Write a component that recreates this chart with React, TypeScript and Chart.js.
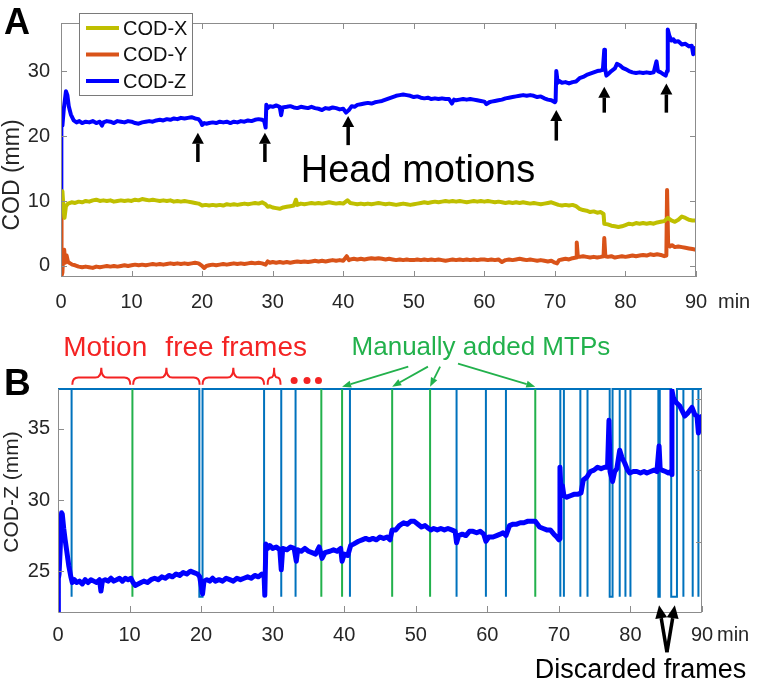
import React, { useEffect, useRef } from 'react';
import { Chart, registerables } from 'chart.js';

Chart.register(...registerables);

const FONT = '"Liberation Sans", Arial, Helvetica, sans-serif';
const AXIS_GRAY = '#8c8c8c';
const TEXT_DARK = '#262626';

// ---------------- ticks ----------------
const minuteTicks = [0, 10, 20, 30, 40, 50, 60, 70, 80, 90];
const codTicksA = [0, 10, 20, 30];
const codZTicksB = [25, 30, 35];
const codZRightTicksB = [27.05, 32.1, 37.1];

// ---------------- panel A series: [minute, mm] ----------------
const codX: [number, number][] = [
  [0.1, 10.0], [0.2, 11.5], [0.35, 9.0], [0.5, 7.4], [0.7, 9.2], [1, 9.6], [1.5, 9.8], [2, 9.7], [2.5, 9.9], [3, 9.8],
  [3.5, 10.0], [4, 9.9], [4.5, 10.1], [5, 10.2], [5.5, 10.0], [6, 10.1], [6.5, 10.0], [7, 10.1], [7.5, 9.9], [8, 10.0],
  [8.5, 10.1], [9, 10.0], [9.5, 10.1], [10, 10.0], [10.5, 10.2], [11, 10.1], [11.5, 10.3], [12, 10.2], [12.5, 10.1], [13, 10.2],
  [13.5, 10.1], [14, 10.0], [14.5, 10.1], [15, 10.0], [15.5, 10.1], [16, 9.9], [16.5, 10.0], [17, 9.9], [17.5, 10.0], [18, 9.9],
  [18.5, 9.8], [19, 9.7], [19.5, 9.6], [20, 9.3], [20.5, 9.4], [21, 9.3], [21.5, 9.4], [22, 9.3], [22.5, 9.4], [23, 9.3],
  [23.5, 9.5], [24, 9.4], [24.5, 9.5], [25, 9.4], [25.5, 9.5], [26, 9.6], [26.5, 9.5], [27, 9.6], [27.5, 9.7], [28, 9.6],
  [28.5, 9.8], [29, 9.5], [29.3, 9.1], [29.6, 9.2], [30, 9.0], [30.5, 8.9], [31, 8.8], [31.5, 9.0], [32, 9.1], [32.5, 9.2],
  [33, 9.3], [33.3, 10.2], [33.5, 9.4], [34, 9.6], [34.5, 9.5], [35, 9.6], [35.5, 9.7], [36, 9.6], [36.5, 9.7], [37, 9.6],
  [37.5, 9.7], [38, 9.8], [38.5, 9.7], [39, 9.6], [39.5, 9.7], [40, 9.6], [40.6, 10.1], [41, 9.7], [41.5, 9.6], [42, 9.5],
  [42.5, 9.6], [43, 9.5], [43.5, 9.6], [44, 9.5], [44.5, 9.6], [45, 9.7], [45.5, 9.6], [46, 9.5], [46.5, 9.6], [47, 9.5],
  [47.5, 9.4], [48, 9.5], [48.5, 9.6], [49, 9.5], [49.5, 9.4], [50, 9.5], [50.5, 9.6], [51, 9.7], [51.5, 9.8], [52, 9.7],
  [52.5, 9.8], [53, 9.9], [53.5, 9.8], [54, 9.9], [54.5, 10.0], [55, 9.9], [55.5, 10.0], [56, 9.9], [56.5, 10.0], [57, 9.9],
  [57.5, 9.8], [58, 9.9], [58.5, 10.0], [59, 9.9], [59.5, 10.0], [60, 9.9], [60.5, 10.0], [61, 9.9], [61.5, 9.8], [62, 9.9],
  [62.5, 9.8], [63, 9.7], [63.5, 9.8], [64, 9.7], [64.5, 9.8], [65, 9.7], [65.5, 9.8], [66, 9.7], [66.5, 9.6], [67, 9.7],
  [67.5, 9.6], [68, 9.5], [68.5, 9.6], [69, 9.7], [69.5, 9.8], [70, 9.6], [70.5, 9.4], [71, 9.3], [71.5, 9.4], [72, 9.3],
  [72.5, 9.4], [73, 9.2], [73.5, 8.8], [74, 8.6], [74.5, 8.5], [75, 8.3], [75.5, 8.4], [76, 8.2], [76.5, 8.3], [76.9, 8.0],
  [77, 6.5], [77.5, 6.4], [78, 6.2], [78.5, 6.1], [79, 6.0], [79.5, 6.1], [80, 6.3], [80.5, 6.5], [81, 6.4], [81.5, 6.6],
  [82, 6.5], [82.5, 6.6], [83, 6.5], [83.5, 6.6], [84, 6.5], [84.5, 6.7], [85, 6.8], [85.5, 6.9], [86, 7.4], [86.5, 7.0],
  [87, 6.8], [87.5, 7.1], [88, 7.6], [88.5, 7.4], [89, 7.1], [89.5, 7.0], [90, 7.0],
];

const codY: [number, number][] = [
  [0, 10], [0.05, 4], [0.1, -1.5], [0.2, -1.0], [0.3, 1.5], [0.45, 2.5], [0.6, 0.5], [0.8, 1.6], [1, 0.6], [1.3, 0.4],
  [1.6, 0.2], [2, 0.1], [2.5, -0.1], [3, -0.2], [3.5, -0.1], [4, -0.2], [4.5, -0.3], [5, -0.1], [5.5, -0.2], [6, -0.1],
  [6.5, 0.0], [7, -0.1], [7.5, 0.0], [8, -0.1], [8.5, 0.0], [9, 0.1], [9.5, 0.0], [10, 0.1], [10.5, 0.2], [11, 0.1],
  [11.5, 0.2], [12, 0.1], [12.5, 0.2], [13, 0.3], [13.5, 0.2], [14, 0.3], [14.5, 0.2], [15, 0.3], [15.5, 0.4], [16, 0.3],
  [16.5, 0.4], [17, 0.3], [17.5, 0.4], [18, 0.3], [18.5, 0.4], [19, 0.5], [19.5, 0.4], [20, 0.0], [20.3, -0.3], [20.6, 0.0],
  [21, 0.1], [21.5, 0.2], [22, 0.1], [22.5, 0.2], [23, 0.3], [23.5, 0.2], [24, 0.3], [24.5, 0.4], [25, 0.3], [25.5, 0.4],
  [26, 0.3], [26.5, 0.4], [27, 0.5], [27.5, 0.4], [28, 0.5], [28.5, 0.4], [29, 0.2], [29.3, 0.7], [29.6, 0.5], [30, 0.6],
  [30.5, 0.5], [31, 0.6], [31.5, 0.5], [32, 0.6], [32.5, 0.5], [33, 0.6], [33.5, 0.7], [34, 0.6], [34.5, 0.7], [35, 0.6],
  [35.5, 0.7], [36, 0.8], [36.5, 0.7], [37, 0.8], [37.5, 0.7], [38, 0.8], [38.5, 0.9], [39, 0.8], [39.5, 0.9], [40, 0.8],
  [40.5, 1.5], [40.8, 0.9], [41, 1.0], [41.5, 1.1], [42, 1.0], [42.5, 1.1], [43, 1.0], [43.5, 1.1], [44, 1.2], [44.5, 1.1],
  [45, 1.2], [45.5, 1.1], [46, 1.0], [46.5, 1.1], [47, 1.0], [47.5, 0.9], [48, 1.0], [48.5, 0.9], [49, 1.0], [49.5, 0.9],
  [50, 0.9], [50.5, 1.0], [51, 0.9], [51.5, 1.0], [52, 0.9], [52.5, 1.0], [53, 0.9], [53.5, 1.0], [54, 0.9], [54.5, 0.8],
  [55, 0.9], [55.5, 1.0], [56, 0.9], [56.5, 1.0], [57, 0.9], [57.5, 1.0], [58, 0.9], [58.5, 1.0], [59, 0.9], [59.5, 1.0],
  [60, 1.0], [60.5, 0.9], [61, 1.0], [61.5, 0.9], [62, 1.0], [62.5, 0.6], [63, 0.9], [63.5, 1.0], [64, 0.9], [64.5, 1.0],
  [65, 1.1], [65.5, 1.0], [66, 0.9], [66.5, 1.0], [67, 0.9], [67.5, 0.8], [68, 0.9], [68.5, 0.8], [69, 0.7], [69.5, 0.8],
  [70, 0.5], [70.3, 0.4], [70.6, 0.9], [71, 1.0], [71.5, 1.1], [72, 1.0], [72.5, 1.2], [73, 1.3], [73.1, 3.6], [73.25, 1.5],
  [73.5, 1.4], [74, 1.5], [74.5, 1.4], [75, 1.3], [75.5, 1.4], [76, 1.3], [76.5, 1.4], [76.9, 1.5], [77, 4.3], [77.15, 1.5],
  [77.5, 1.4], [78, 1.5], [78.5, 1.3], [79, 1.4], [79.5, 1.5], [80, 1.4], [80.5, 1.5], [81, 1.6], [81.5, 1.5], [82, 1.6],
  [82.5, 1.7], [83, 1.6], [83.5, 1.8], [84, 1.7], [84.5, 1.8], [85, 1.7], [85.5, 1.5], [85.8, 1.6], [85.9, 11.7], [86.05, 3.4],
  [86.3, 3.0], [86.6, 3.2], [87, 2.9], [87.5, 3.0], [88, 2.9], [88.5, 2.8], [89, 2.7], [89.5, 2.6], [90, 2.5],
];

const codZ: [number, number][] = [
  [0, 10.3], [0.05, 22.4], [0.2, 21.6], [0.4, 24.2], [0.7, 26.9], [0.9, 26.3], [1.1, 24.6], [1.4, 23.3], [1.8, 22.4], [2.2, 22.1],
  [2.6, 22.3], [3, 22.0], [3.5, 22.2], [4, 22.1], [4.5, 22.3], [5, 22.0], [5.5, 22.2], [5.8, 21.6], [6, 22.1], [6.5, 22.3],
  [7, 22.2], [7.5, 22.0], [8, 22.3], [8.5, 22.2], [9, 22.1], [9.5, 22.3], [10, 22.2], [10.5, 22.0], [11, 21.9], [11.5, 22.1],
  [12, 22.2], [12.5, 22.3], [13, 22.2], [13.5, 22.4], [14, 22.5], [14.5, 22.4], [15, 22.6], [15.5, 22.5], [16, 22.7], [16.5, 22.6],
  [17, 22.8], [17.5, 22.7], [18, 22.8], [18.5, 22.9], [19, 22.7], [19.5, 22.6], [19.8, 22.2], [20, 21.7], [20.3, 22.0], [20.6, 21.9],
  [21, 22.0], [21.5, 22.1], [22, 22.0], [22.5, 22.2], [23, 22.1], [23.5, 22.2], [24, 22.0], [24.5, 22.2], [25, 22.1], [25.5, 22.3],
  [26, 22.2], [26.5, 22.4], [27, 22.3], [27.5, 22.5], [28, 22.6], [28.5, 22.5], [28.8, 22.3], [29, 21.3], [29.1, 24.8], [29.3, 24.3],
  [29.6, 24.6], [30, 24.5], [30.5, 24.7], [31, 24.5], [31.2, 23.2], [31.4, 24.4], [32, 24.5], [32.5, 24.6], [33, 24.4], [33.5, 24.3],
  [34, 24.5], [34.5, 24.4], [35, 24.3], [35.5, 24.5], [36, 24.3], [36.5, 24.2], [37, 24.0], [37.5, 24.3], [38, 24.2], [38.5, 24.4],
  [39, 24.3], [39.5, 24.1], [40, 24.2], [40.4, 23.6], [40.8, 24.0], [41.2, 24.6], [41.6, 24.5], [42, 24.8], [42.5, 24.9], [43, 25.0],
  [43.5, 25.1], [44, 25.0], [44.5, 25.2], [45, 25.3], [45.5, 25.4], [46, 25.6], [46.5, 25.8], [47, 26.0], [47.5, 26.2], [48, 26.3],
  [48.5, 26.4], [49, 26.3], [49.5, 26.2], [50, 26.0], [50.5, 26.1], [51, 25.9], [51.5, 25.8], [52, 25.9], [52.5, 25.7], [53, 25.8],
  [53.5, 25.7], [54, 25.8], [54.5, 25.7], [55, 25.7], [55.4, 25.0], [55.7, 25.6], [56, 25.5], [56.5, 25.6], [57, 25.7], [57.5, 25.6],
  [58, 25.7], [58.5, 25.6], [59, 25.5], [59.5, 25.4], [60, 25.3], [60.3, 24.9], [60.7, 25.2], [61, 25.3], [61.5, 25.4], [62, 25.5],
  [62.5, 25.6], [63, 25.8], [63.5, 25.9], [64, 26.0], [64.5, 26.1], [65, 26.2], [65.5, 26.3], [66, 26.2], [66.5, 26.3], [67, 26.2],
  [67.5, 26.0], [68, 26.1], [68.5, 25.8], [69, 25.6], [69.5, 25.5], [70, 25.2], [70.1, 25.4], [70.2, 30.0], [70.4, 28.2], [70.6, 28.5],
  [71, 28.2], [71.5, 28.3], [72, 28.1], [72.5, 28.3], [73, 28.4], [73.5, 28.9], [74, 29.1], [74.5, 29.4], [75, 29.6], [75.5, 29.8],
  [76, 30.0], [76.5, 30.1], [76.8, 30.2], [77, 33.3], [77.1, 30.5], [77.3, 29.3], [77.6, 29.6], [78, 30.0], [78.5, 30.4], [78.8, 31.1],
  [79.2, 30.9], [79.6, 30.5], [80, 30.3], [80.5, 30.0], [81, 29.8], [81.5, 29.7], [82, 29.8], [82.5, 29.7], [83, 29.8], [83.5, 29.7],
  [84, 29.8], [84.4, 31.5], [84.6, 30.0], [85, 29.8], [85.4, 29.5], [85.7, 29.3], [85.9, 30.0], [86, 36.4], [86.2, 35.5], [86.5, 34.7],
  [86.8, 34.9], [87, 34.5], [87.5, 34.6], [88, 34.1], [88.5, 34.2], [89, 33.8], [89.4, 33.9], [89.6, 32.6], [89.8, 33.5], [90, 33.6],
];

// ---------------- panel B series ----------------
const codZPanelB: [number, number][] = [
  [0, 22.0], [0.05, 24.5], [0.15, 24.8], [0.3, 26.5], [0.5, 29.1], [0.6, 29.0], [0.8, 28.0], [1.0, 27.2], [1.2, 26.5], [1.5, 25.4],
  [1.8, 24.6], [2.0, 24.2], [2.3, 24.4], [2.6, 24.2], [3, 24.3], [3.4, 24.1], [3.8, 24.4], [4.2, 24.2], [4.6, 24.4], [5, 24.3],
  [5.4, 24.2], [5.8, 24.4], [6.0, 23.6], [6.2, 24.3], [6.6, 24.4], [7, 24.3], [7.4, 24.5], [7.8, 24.3], [8.2, 24.4], [8.6, 24.5],
  [9, 24.3], [9.4, 24.5], [9.8, 24.4], [10.2, 24.5], [10.5, 24.2], [10.8, 24.0], [11.2, 24.1], [11.6, 24.2], [12, 24.3], [12.5, 24.2],
  [13, 24.4], [13.5, 24.5], [14, 24.4], [14.5, 24.6], [15, 24.5], [15.5, 24.7], [16, 24.6], [16.5, 24.8], [17, 24.7], [17.5, 24.9],
  [18, 24.8], [18.5, 25.0], [19, 24.9], [19.5, 24.8], [19.8, 24.6], [20, 24.0], [20.2, 23.4], [20.4, 24.3], [20.8, 24.4], [21.2, 24.3],
  [21.6, 24.5], [22, 24.3], [22.5, 24.4], [23, 24.3], [23.5, 24.5], [24, 24.4], [24.5, 24.3], [25, 24.5], [25.5, 24.4], [26, 24.5],
  [26.5, 24.6], [27, 24.5], [27.5, 24.7], [28, 24.6], [28.5, 24.8], [28.8, 24.7], [28.9, 23.3], [29.05, 26.9], [29.3, 26.6], [29.6, 26.8],
  [30, 26.6], [30.5, 26.7], [31, 26.5], [31.2, 25.1], [31.4, 26.6], [32, 26.5], [32.5, 26.7], [33, 26.6], [33.3, 25.7], [33.5, 26.5],
  [34, 26.4], [34.5, 26.6], [35, 26.4], [35.5, 26.3], [36, 26.2], [36.5, 26.7], [36.9, 25.9], [37.3, 26.3], [38, 26.4], [38.5, 26.5],
  [39, 26.4], [39.5, 26.6], [39.7, 25.7], [40, 26.2], [40.5, 26.1], [40.9, 26.8], [41.3, 26.9], [42, 27.1], [42.5, 27.2], [43, 27.3],
  [43.5, 27.2], [44, 27.3], [44.5, 27.2], [45, 27.4], [45.5, 27.3], [46, 27.4], [46.4, 27.2], [46.7, 27.9], [47.2, 27.9], [47.7, 28.2],
  [48.3, 28.4], [48.8, 28.3], [49.3, 28.5], [49.8, 28.5], [50.3, 28.3], [50.8, 28.1], [51.3, 28.2], [51.8, 28.0], [52.1, 27.9], [52.5, 28.0],
  [53, 27.9], [53.5, 28.0], [54, 27.9], [54.5, 28.0], [55, 27.9], [55.5, 27.8], [55.7, 27.0], [56, 27.5], [56.5, 27.6], [57, 27.5],
  [57.5, 27.8], [58, 27.8], [58.5, 27.7], [59, 27.8], [59.5, 27.6], [59.8, 27.1], [60.2, 27.4], [60.8, 27.4], [61.3, 27.5], [61.8, 27.6],
  [62.2, 27.7], [62.6, 27.5], [63.1, 28.2], [63.6, 28.3], [64.1, 28.3], [64.6, 28.4], [65.1, 28.4], [65.6, 28.5], [66.1, 28.5], [66.7, 28.5],
  [67.3, 28.1], [67.8, 28.0], [68.3, 27.9], [68.8, 27.9], [69.3, 27.6], [69.7, 27.4], [70.0, 27.2], [70.1, 27.3], [70.15, 32.3], [70.3, 30.5],
  [70.5, 31.0], [70.7, 30.3], [71.1, 30.2], [71.6, 30.3], [72.1, 30.4], [72.6, 30.4], [73.1, 30.5], [73.4, 31.4], [73.9, 31.6], [74.4, 32.0],
  [74.9, 32.1], [75.4, 32.3], [75.9, 32.2], [76.4, 32.3], [76.8, 32.3], [77.0, 35.6], [77.15, 32.0], [77.5, 31.3], [77.8, 32.0], [78.1, 32.2],
  [78.5, 33.5], [78.8, 33.0], [79.2, 32.6], [79.6, 32.1], [79.9, 31.9], [80.4, 32.0], [80.9, 32.0], [81.4, 31.9], [81.9, 32.0], [82.3, 31.9],
  [82.8, 32.0], [83.3, 32.1], [83.7, 32.0], [84.0, 33.8], [84.15, 32.2], [84.4, 32.1], [84.9, 32.0], [85.3, 31.9], [85.6, 32.0], [85.75, 31.8],
  [85.8, 37.7], [86.0, 37.2], [86.2, 37.0], [86.5, 36.8], [86.9, 36.6], [87.3, 36.2], [87.6, 35.9], [88.0, 36.1], [88.3, 36.3], [88.6, 36.5],
  [89.0, 36.0], [89.3, 35.9], [89.5, 34.7], [89.7, 35.8], [90.0, 35.9],
];

// motion-time-point (MTP) pulses: [start minute, end minute]
const mtpHigh = 37.8;
const mtpLow = 23.2;
const autoMtpPulses: [number, number][] = [
  [1.9, 1.9], [19.75, 20.2], [28.8, 28.8], [31.2, 31.2], [33.2, 33.2], [40.8, 40.8], [55.7, 55.7], [59.8, 59.8],
  [62.6, 62.6], [70.2, 70.2], [70.7, 70.7], [73.0, 73.0], [74.0, 74.0], [77.1, 77.5], [78.5, 78.5], [79.3, 79.3],
  [80.0, 80.0], [83.9, 84.1], [85.7, 86.5], [87.4, 87.4], [88.7, 88.7], [89.5, 89.5],
];
const manualMtpPulses: [number, number][] = [
  [10.4, 10.4], [36.8, 36.8], [39.7, 39.7], [46.7, 46.7], [52.0, 52.0], [66.7, 66.7],
];

// annotations (data coordinates)
const headMotionTimes = [19.4, 28.9, 40.7, 70.2, 77.0, 85.8];
const headMotionArrowTip = [20.5, 20.5, 23.1, 24.0, 27.6, 28.1];
const headMotionArrowBase = [16.0, 16.0, 18.6, 19.3, 23.6, 23.6];
const motionFreeIntervals: [number, number][] = [[2.0, 10.1], [10.5, 19.8], [20.2, 28.8], [29.3, 31.1]];
const ellipsisTimes = [33.0, 34.8, 36.4];
const manualArrowTails: [number, number][] = [[48.95, 39.37], [51.7, 39.37], [53.4, 39.37], [55.9, 39.58]];
const discardedTargets = [84.0, 86.2];

const toXY = (arr: [number, number][]) => arr.map(([x, y]) => ({ x, y }));

function buildPulseLine(pulses: [number, number][], continuous: boolean) {
  const pts: { x: number; y: number | null }[] = [];
  if (continuous) pts.push({ x: 0, y: mtpHigh });
  pulses.forEach(([s, e]) => {
    pts.push({ x: s, y: mtpHigh }, { x: s, y: mtpLow }, { x: e, y: mtpLow }, { x: e, y: mtpHigh });
    if (!continuous) pts.push({ x: e, y: null });
  });
  if (continuous) pts.push({ x: 90, y: mtpHigh });
  return pts;
}

function drawArrow(ctx: CanvasRenderingContext2D, x1: number, y1: number, x2: number, y2: number,
  color: string, width: number, headLen: number, headW: number) {
  const ang = Math.atan2(y2 - y1, x2 - x1);
  const bx = x2 - headLen * Math.cos(ang);
  const by = y2 - headLen * Math.sin(ang);
  ctx.strokeStyle = color;
  ctx.fillStyle = color;
  ctx.lineWidth = width;
  ctx.lineCap = 'butt';
  ctx.beginPath();
  ctx.moveTo(x1, y1);
  ctx.lineTo(bx, by);
  ctx.stroke();
  ctx.beginPath();
  ctx.moveTo(x2, y2);
  ctx.lineTo(bx + (headW / 2) * Math.sin(ang), by - (headW / 2) * Math.cos(ang));
  ctx.lineTo(bx - (headW / 2) * Math.sin(ang), by + (headW / 2) * Math.cos(ang));
  ctx.closePath();
  ctx.fill();
}

function drawBrace(ctx: CanvasRenderingContext2D, x1: number, x2: number, yBase: number, yMid: number, yPeak: number) {
  const xc = (x1 + x2) / 2;
  const r = Math.min(6, (x2 - x1) / 4);
  ctx.beginPath();
  ctx.moveTo(x1, yBase);
  ctx.quadraticCurveTo(x1, yMid, x1 + r, yMid);
  ctx.lineTo(xc - r, yMid);
  ctx.quadraticCurveTo(xc, yMid, xc, yPeak);
  ctx.quadraticCurveTo(xc, yMid, xc + r, yMid);
  ctx.lineTo(x2 - r, yMid);
  ctx.quadraticCurveTo(x2, yMid, x2, yBase);
  ctx.stroke();
}

const tickFont = { family: FONT, size: 20 };

const panelAPlugin = {
  id: 'panelADecor',
  afterDraw(chart: any) {
    const { ctx, chartArea: ca } = chart;
    const x = chart.scales.x;
    const y = chart.scales.y;
    ctx.save();
    ctx.strokeStyle = AXIS_GRAY;
    ctx.lineWidth = 1;
    ctx.strokeRect(ca.left + 0.5, ca.top + 0.5, ca.right - ca.left - 1, ca.bottom - ca.top - 1);
    ctx.beginPath();
    minuteTicks.forEach((t) => {
      const px = Math.round(x.getPixelForValue(t)) + 0.5;
      ctx.moveTo(px, ca.bottom); ctx.lineTo(px, ca.bottom - 6);
      ctx.moveTo(px, ca.top); ctx.lineTo(px, ca.top + 6);
    });
    codTicksA.forEach((v) => {
      const py = Math.round(y.getPixelForValue(v)) + 0.5;
      ctx.moveTo(ca.left, py); ctx.lineTo(ca.left + 6, py);
      ctx.moveTo(ca.right, py); ctx.lineTo(ca.right - 6, py);
    });
    ctx.stroke();

    ctx.fillStyle = TEXT_DARK;
    ctx.font = `20px ${FONT}`;
    ctx.textAlign = 'left';
    ctx.textBaseline = 'middle';
    ctx.fillText('min', x.getPixelForValue(90) + 22, 302);

    ctx.save();
    ctx.translate(13, 175);
    ctx.rotate(-Math.PI / 2);
    ctx.textAlign = 'center';
    ctx.textBaseline = 'middle';
    ctx.font = `23px ${FONT}`;
    ctx.fillText('COD (mm)', 0, 0);
    ctx.restore();

    ctx.fillStyle = '#000';
    ctx.font = `bold 36px ${FONT}`;
    ctx.textAlign = 'left';
    ctx.textBaseline = 'alphabetic';
    ctx.fillText('A', 4, 34);

    headMotionTimes.forEach((t, i) => {
      const px = x.getPixelForValue(t);
      drawArrow(ctx, px, y.getPixelForValue(headMotionArrowBase[i]), px, y.getPixelForValue(headMotionArrowTip[i]), '#000', 3.5, 11, 12);
    });

    ctx.fillStyle = '#000';
    ctx.font = `38px ${FONT}`;
    ctx.textAlign = 'center';
    ctx.textBaseline = 'alphabetic';
    ctx.fillText('Head motions', x.getPixelForValue(50.6), y.getPixelForValue(12.86));

    // legend
    const lx = 79, ly = 13, lw = 113, lh = 82;
    ctx.fillStyle = '#fff';
    ctx.fillRect(lx, ly, lw, lh);
    ctx.strokeStyle = '#7a7a7a';
    ctx.lineWidth = 1;
    ctx.strokeRect(lx + 0.5, ly + 0.5, lw, lh);
    chart.data.datasets.forEach((ds: any, i: number) => {
      const rowY = 28 + i * 26.5;
      ctx.strokeStyle = ds.borderColor;
      ctx.lineWidth = 4;
      ctx.beginPath();
      ctx.moveTo(86, rowY);
      ctx.lineTo(119, rowY);
      ctx.stroke();
      ctx.fillStyle = '#111';
      ctx.font = `20px ${FONT}`;
      ctx.textAlign = 'left';
      ctx.textBaseline = 'middle';
      ctx.fillText(ds.label, 123, rowY + 1);
    });
    ctx.restore();
  },
};

const panelBPlugin = {
  id: 'panelBDecor',
  afterDraw(chart: any) {
    const { ctx, chartArea: ca } = chart;
    const x = chart.scales.x;
    const y = chart.scales.y;
    ctx.save();
    ctx.strokeStyle = AXIS_GRAY;
    ctx.lineWidth = 1;
    ctx.beginPath();
    ctx.moveTo(ca.left + 0.5, ca.top);
    ctx.lineTo(ca.left + 0.5, ca.bottom + 0.5);
    ctx.lineTo(ca.right - 0.5, ca.bottom + 0.5);
    ctx.lineTo(ca.right - 0.5, ca.top);
    minuteTicks.forEach((t) => {
      const px = Math.round(x.getPixelForValue(t)) + 0.5;
      ctx.moveTo(px, ca.bottom); ctx.lineTo(px, ca.bottom - 6);
    });
    codZTicksB.forEach((v) => {
      const py = Math.round(y.getPixelForValue(v)) + 0.5;
      ctx.moveTo(ca.left, py); ctx.lineTo(ca.left + 6, py);
    });
    codZRightTicksB.forEach((v) => {
      const py = Math.round(y.getPixelForValue(v)) + 0.5;
      ctx.moveTo(ca.right, py); ctx.lineTo(ca.right - 6, py);
    });
    ctx.stroke();

    ctx.fillStyle = TEXT_DARK;
    ctx.font = `20px ${FONT}`;
    ctx.textAlign = 'left';
    ctx.textBaseline = 'middle';
    ctx.fillText('min', x.getPixelForValue(90) + 15, 315);

    ctx.save();
    ctx.translate(12, 172);
    ctx.rotate(-Math.PI / 2);
    ctx.textAlign = 'center';
    ctx.textBaseline = 'middle';
    ctx.font = `21px ${FONT}`;
    ctx.fillText('COD-Z (mm)', 0, 0);
    ctx.restore();

    ctx.fillStyle = '#000';
    ctx.font = `bold 37px ${FONT}`;
    ctx.textAlign = 'left';
    ctx.textBaseline = 'alphabetic';
    ctx.fillText('B', 4, 75);

    const red = '#f42323';
    ctx.fillStyle = red;
    ctx.font = `28px ${FONT}`;
    ctx.textAlign = 'center';
    ctx.fillText('Motion', x.getPixelForValue(6.6), y.getPixelForValue(40.1));
    ctx.fillText('free frames', x.getPixelForValue(24.9), y.getPixelForValue(40.1));
    ctx.strokeStyle = red;
    ctx.lineWidth = 2;
    motionFreeIntervals.forEach(([a, b]) => {
      drawBrace(ctx, x.getPixelForValue(a), x.getPixelForValue(b), y.getPixelForValue(38.1), y.getPixelForValue(38.6), y.getPixelForValue(39.3));
    });
    ellipsisTimes.forEach((t) => {
      ctx.beginPath();
      ctx.arc(x.getPixelForValue(t), y.getPixelForValue(38.4), 3.5, 0, Math.PI * 2);
      ctx.fill();
    });

    const green = '#22b14c';
    ctx.fillStyle = green;
    ctx.font = `26px ${FONT}`;
    ctx.textAlign = 'center';
    ctx.fillText('Manually added MTPs', x.getPixelForValue(59.1), y.getPixelForValue(40.2));
    manualArrowTails.forEach(([tx, ty], i) => {
      const target = manualMtpPulses[i + 2][0];
      drawArrow(ctx, x.getPixelForValue(tx), y.getPixelForValue(ty), x.getPixelForValue(target), y.getPixelForValue(37.96), green, 1.8, 9, 7);
    });

    const apexX = x.getPixelForValue((discardedTargets[0] + discardedTargets[1]) / 2);
    const apexY = y.getPixelForValue(19.3);
    discardedTargets.forEach((t) => {
      drawArrow(ctx, apexX, apexY, x.getPixelForValue(t), y.getPixelForValue(22.6), '#000', 3.5, 13, 12);
    });
    ctx.fillStyle = '#000';
    ctx.font = `27px ${FONT}`;
    ctx.textAlign = 'center';
    ctx.textBaseline = 'alphabetic';
    ctx.fillText('Discarded frames', x.getPixelForValue(81.4), y.getPixelForValue(17.5));
    ctx.restore();
  },
};

function xScale(height: number, padding: number) {
  return {
    type: 'linear' as const,
    min: 0,
    max: 90,
    afterFit: (s: any) => { s.height = height; },
    afterBuildTicks: (s: any) => { s.ticks = minuteTicks.map((v) => ({ value: v })); },
    grid: { display: false, drawTicks: false },
    border: { display: false },
    ticks: { font: tickFont, color: TEXT_DARK, padding, maxRotation: 0, autoSkip: false },
  };
}

function yScale(min: number, max: number, width: number, ticks: number[], padding: number) {
  return {
    type: 'linear' as const,
    min,
    max,
    afterFit: (s: any) => { s.width = width; },
    afterBuildTicks: (s: any) => { s.ticks = ticks.map((v) => ({ value: v })); },
    grid: { display: false, drawTicks: false },
    border: { display: false },
    ticks: { font: tickFont, color: TEXT_DARK, padding },
  };
}

const lineDefaults = { pointRadius: 0, tension: 0, borderJoinStyle: 'round' as const, fill: false };

export default function App() {
  const refA = useRef<HTMLCanvasElement>(null);
  const refB = useRef<HTMLCanvasElement>(null);

  useEffect(() => {
    const chartA = new Chart(refA.current as HTMLCanvasElement, {
      type: 'line',
      data: {
        datasets: [
          { label: 'COD-X', data: toXY(codX), borderColor: '#bfbf00', borderWidth: 4, ...lineDefaults },
          { label: 'COD-Y', data: toXY(codY), borderColor: '#d95319', borderWidth: 4, ...lineDefaults },
          { label: 'COD-Z', data: toXY(codZ), borderColor: '#0000ff', borderWidth: 4, ...lineDefaults },
        ],
      },
      options: {
        responsive: false,
        maintainAspectRatio: false,
        animation: false,
        devicePixelRatio: 1,
        layout: { padding: { left: 0, right: 61, top: 3, bottom: 0 } },
        plugins: { legend: { display: false }, tooltip: { enabled: false } },
        scales: {
          x: xScale(43, 13),
          y: yScale(-1.7, 37.4, 61, codTicksA, 11),
        },
      } as any,
      plugins: [panelAPlugin],
    });

    const chartB = new Chart(refB.current as HTMLCanvasElement, {
      type: 'line',
      data: {
        datasets: [
          { label: 'COD-Z', data: toXY(codZPanelB), borderColor: '#0000ff', borderWidth: 5, ...lineDefaults },
          { label: 'Manual MTP', data: buildPulseLine(manualMtpPulses, false), borderColor: '#22b14c', borderWidth: 2, spanGaps: false, clip: false, ...lineDefaults, borderJoinStyle: 'miter' },
          { label: 'MTP', data: buildPulseLine(autoMtpPulses, true), borderColor: '#0072bd', borderWidth: 2, clip: false, ...lineDefaults, borderJoinStyle: 'miter' },
        ],
      },
      options: {
        responsive: false,
        maintainAspectRatio: false,
        animation: false,
        devicePixelRatio: 1,
        layout: { padding: { left: 0, right: 55, top: 69, bottom: 0 } },
        plugins: { legend: { display: false }, tooltip: { enabled: false } },
        scales: {
          x: xScale(72, 11),
          y: yScale(22.13, 37.8, 58, codZTicksB, 8),
        },
      } as any,
      plugins: [panelBPlugin],
    });

    return () => {
      chartA.destroy();
      chartB.destroy();
    };
  }, []);

  return (
    <div style={{ position: 'absolute', left: 0, top: 0, width: 757, height: 684, background: '#fff' }}>
      <canvas ref={refA} width={757} height={320} style={{ position: 'absolute', left: 0, top: 0, width: 757, height: 320 }} />
      <canvas ref={refB} width={757} height={364} style={{ position: 'absolute', left: 0, top: 320, width: 757, height: 364 }} />
    </div>
  );
}
